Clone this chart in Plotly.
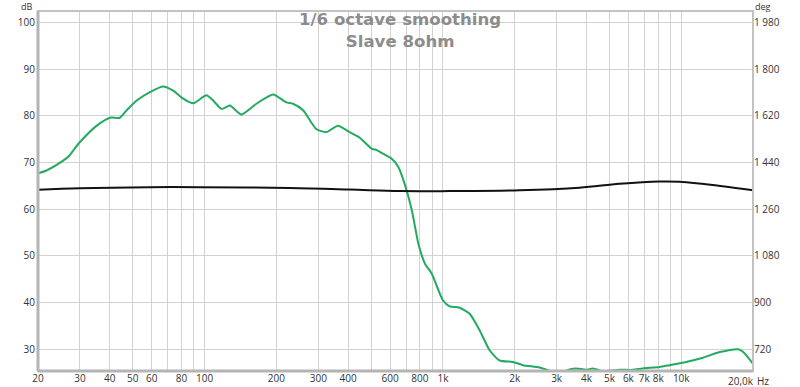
import numpy as np
import plotly.graph_objects as go

# SPL (green) curve: frequency (Hz) and level (dB)
spl_freq = [20, 21.7, 25.5, 27.0, 28.5, 30, 35.3, 40.1, 44.1, 47.1, 51.9, 59, 67.1, 73.8,
            81.3, 89.6, 101.8, 108.6, 117.8, 127.6, 142.8, 165, 194, 220, 235, 259, 294,
            324, 363, 406, 448, 502, 525, 560, 610, 651, 694, 741, 789, 841, 898, 1000,
            1067, 1175, 1294, 1425, 1570, 1728, 1965, 2166, 2544, 2845, 3100, 3396, 3626,
            3991, 4253, 4680, 5000, 5506, 6265, 6891, 8107, 8927, 10480, 12330, 14500,
            17330, 18200, 20000]
spl_db = [67.7, 68.3, 70.4, 71.4, 73.0, 74.4, 77.9, 79.6, 79.6, 81.2, 83.3, 85.1, 86.3, 85.4,
          83.7, 82.7, 84.4, 83.3, 81.5, 82.2, 80.3, 82.6, 84.6, 82.9, 82.6, 81.2, 77.2,
          76.5, 77.9, 76.5, 75.3, 73.0, 72.7, 71.9, 70.8, 69.0, 65.1, 59.75, 52.6, 48.3, 46.2, 40.5,
          39.2, 38.9, 37.6, 34.1, 29.8, 27.6, 27.3, 26.6, 26.1, 25.3, 25.0, 25.7, 25.9,
          25.6, 25.9, 25.3, 25.4, 25.6, 25.6, 25.9, 26.2, 26.6, 27.3, 28.2, 29.4,
          30.0, 29.4, 26.9]

# Phase (black) curve: frequency (Hz) and phase (deg)
ph_freq = [20, 30, 59, 95.5, 227, 406, 658, 1067, 2098, 3741, 5506, 8107, 9806, 14900, 20000]
ph_deg = [1335, 1341, 1345, 1345, 1342, 1336, 1330, 1330, 1333, 1343, 1358, 1367, 1366, 1349, 1333]

# Axis ticks
x_tickvals = [20, 30, 40, 50, 60, 70, 80, 90, 100, 200, 300, 400, 500, 600, 700, 800, 900,
              1000, 2000, 3000, 4000, 5000, 6000, 7000, 8000, 9000, 10000, 20000]
x_ticktext = ["20", "30", "40", "50", "60", "", "80", "", "100", "200", "300", "400", "", "600",
              "", "800", "", "1k", "2k", "3k", "4k", "5k", "6k", "7k", "8k", "", "10k", ""]
db_ticks = [30, 40, 50, 60, 70, 80, 90, 100]
deg_ticks = [720, 900, 1080, 1260, 1440, 1620, 1800, 1980]
deg_ticktext = ["720", "900", "1 080", "1 260", "1 440", "1 620", "1 800", "1 980"]

db_range = [25.35, 102.46]
deg_range = [720 + (db_range[0] - 30) * 18, 720 + (db_range[1] - 30) * 18]

FONT = "Open Sans"
GRID = "#d2d2d2"
FRAME = "#c2c2c2"
TXT = "#333333"

fig = go.Figure()
fig.add_trace(go.Scatter(x=ph_freq, y=ph_deg, yaxis="y2", mode="lines",
                         line=dict(color="#111111", width=2, shape="spline", smoothing=1.0),
                         showlegend=False, hoverinfo="skip"))
fig.add_trace(go.Scatter(x=spl_freq, y=spl_db, mode="lines",
                         line=dict(color="#22aa5e", width=2, shape="spline", smoothing=0.6),
                         showlegend=False))

fig.update_layout(
    width=800, height=387,
    margin=dict(l=38, r=46.5, t=11, b=16, autoexpand=False),
    paper_bgcolor="white", plot_bgcolor="white",
    font=dict(family=FONT, size=10, color=TXT),
    xaxis=dict(type="log", range=[np.log10(20), np.log10(20000)], automargin=False,
               tickvals=x_tickvals, ticktext=x_ticktext, showgrid=True, gridcolor=GRID,
               gridwidth=1, zeroline=False, showline=False, ticks="", tickangle=0,
               tickfont=dict(size=10, color=TXT)),
    yaxis=dict(range=db_range, tickvals=db_ticks, showgrid=True, gridcolor=GRID,
               automargin=False, zeroline=False, showline=False, ticks="",
               ticklabelstandoff=2),
    yaxis2=dict(range=deg_range, tickvals=deg_ticks, ticktext=deg_ticktext, overlaying="y",
                automargin=False, side="right", showgrid=False, zeroline=False,
                showline=False, ticks=""),
    shapes=[
        dict(type="rect", xref="paper", yref="paper", x0=0, x1=1, y0=0, y1=1,
             line=dict(color=FRAME, width=2), layer="above"),
        dict(type="line", xref="paper", yref="paper", x0=0, x1=0, y0=0, y1=1,
             line=dict(color="#b4b4b4", width=3), layer="above"),
        dict(type="line", xref="paper", yref="paper", x0=0, x1=1, y0=0, y1=0,
             line=dict(color="#b4b4b4", width=3), layer="above"),
    ],
    annotations=[
        dict(text="<b>1/6 octave smoothing<br>Slave 8ohm</b>", xref="paper", yref="paper",
             x=0.506, y=0.947, xanchor="center", yanchor="middle", showarrow=False,
             font=dict(family="DejaVu Sans", size=16.6, color="#8c8c8c")),
        dict(text="dB", xref="paper", yref="paper", x=-0.006, y=1.0, yshift=5,
             xanchor="right", yanchor="middle", showarrow=False, borderpad=0,
             font=dict(size=9, color=TXT)),
        dict(text="deg", xref="paper", yref="paper", x=1.002, y=1.0, yshift=5,
             xanchor="left", yanchor="middle", showarrow=False, borderpad=0,
             font=dict(size=9, color=TXT)),
        dict(text="20,0k", xref="paper", yref="paper", x=1.0, xshift=3, y=0, yshift=-1,
             xanchor="right", yanchor="top", showarrow=False,
             font=dict(size=10, color=TXT)),
        dict(text="Hz", xref="paper", yref="paper", x=1.0, xshift=2, y=0, yshift=-1,
             xanchor="left", yanchor="top", showarrow=False,
             font=dict(size=10, color=TXT)),
    ],
)

fig.write_html("out.html", config={"displayModeBar": False},
               post_script="document.body.style.margin='0';")
